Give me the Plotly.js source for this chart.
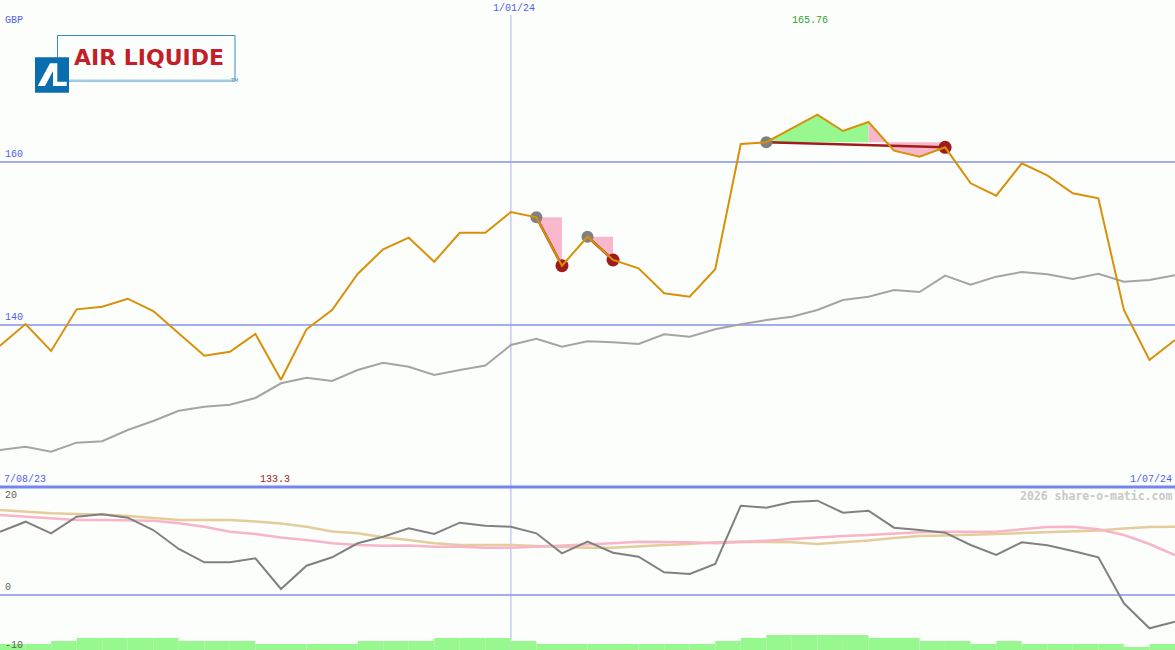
<!DOCTYPE html>
<html>
<head>
<meta charset="utf-8">
<script src="https://cdn.plot.ly/plotly-3.0.1.min.js"></script>
<style>
html,body{margin:0;padding:0;background:#fcfefc;}
#chart{width:1175px;height:650px;}
</style>
</head>
<body>
<div id="chart"></div>
<script>
// ---- data ----
const dates = ['2023-08-14','2023-08-21','2023-08-28','2023-09-04','2023-09-11','2023-09-18','2023-09-25',
 '2023-10-02','2023-10-09','2023-10-16','2023-10-23','2023-10-30','2023-11-06','2023-11-13','2023-11-20',
 '2023-11-27','2023-12-04','2023-12-11','2023-12-18','2023-12-25','2024-01-01','2024-01-08','2024-01-15',
 '2024-01-22','2024-01-29','2024-02-05','2024-02-12','2024-02-19','2024-02-26','2024-03-04','2024-03-11',
 '2024-03-18','2024-03-25','2024-04-01','2024-04-08','2024-04-15','2024-04-22','2024-04-29','2024-05-06',
 '2024-05-13','2024-05-20','2024-05-27','2024-06-03','2024-06-10','2024-06-17','2024-06-24','2024-07-01'];

const price = [137.46,140.12,136.82,141.92,142.24,143.22,141.71,138.93,136.24,136.73,138.90,133.3,139.47,
 141.84,146.25,149.27,150.69,147.75,151.30,151.30,153.84,153.19,147.26,150.81,147.96,146.94,143.88,143.47,
 146.82,162.17,162.38,164.09,165.76,163.76,164.86,161.35,160.61,161.76,157.35,155.84,159.80,158.33,156.13,
 155.52,141.84,135.71,138.16];

const relative = [124.69,125.09,124.48,125.59,125.76,127.14,128.24,129.50,129.99,130.24,131.06,132.86,133.55,
 133.14,134.49,135.38,134.89,133.88,134.49,135.04,137.55,138.32,137.34,138.0,137.88,137.67,138.86,138.57,
 139.47,140.09,140.61,141.02,141.84,143.06,143.47,144.29,144.04,146.04,144.94,145.92,146.49,146.21,145.63,
 146.28,145.30,145.51,146.09];

const momentum = [12.66,14.66,12.34,15.66,16.14,15.46,13.0,9.2,6.54,6.54,7.34,1.2,5.86,7.54,10.34,11.66,
 13.34,12.2,14.46,13.86,13.66,12.34,8.34,10.66,8.46,7.66,4.54,4.2,6.2,17.86,17.46,18.6,18.86,16.46,16.86,
 13.46,13.0,12.46,10.0,8.0,10.54,9.94,8.8,7.54,-1.66,-6.66,-5.34];

const avgSlow = [17.0,16.7,16.34,16.2,16.1,15.8,15.4,15.0,15.0,15.0,14.7,14.3,13.66,12.7,12.34,11.54,11.0,
 10.34,10.0,10.0,10.0,9.8,9.6,9.46,9.46,9.8,10.0,10.2,10.54,10.66,10.6,10.54,10.2,10.5,10.9,11.4,11.8,11.9,
 12.0,12.2,12.4,12.54,12.66,12.9,13.3,13.6,13.66];

const avgFast = [16.0,15.66,15.34,15.0,15.0,15.0,14.86,14.34,13.66,12.66,12.2,11.5,11.0,10.34,10.0,9.86,9.9,
 9.66,9.66,9.46,9.46,9.66,9.86,10.2,10.34,10.66,10.66,10.54,10.34,10.54,10.86,11.2,11.54,11.8,12.0,12.34,
 12.54,12.66,12.66,12.66,13.14,13.6,13.66,13.14,12.0,10.2,8.0];

const volume = [2,2,3,4,4,4,4,3,3,3,2,2,2,2,3,3,3,4,4,4,3,2,2,2,2,2,2,2,3,4,5,5,5,5,4,4,3,3,2,3,2,2,2,2,1,2];

const tradeEntry = [21, 23, 30];
const tradeExit = [22, 24, 37];
const tradeGainEnd = [21, 23, 34];

const priceUnit = 'GBP';
const maxLabel = '165.76';
const minLabel = '133.3';
const startLabel = '7/08/23';
const endLabel = '1/07/24';
const markLabel = '1/01/24';
const markDate = '2024-01-01';

// ---- helpers (pixel -> paper) ----
const W = 1175, H = 650;
const px = x => x / W;
const py = y => 1 - y / H;
const lowerTop = py(487);

const traces = [];
// volume bars
traces.push({type:'bar', x: dates.slice(0, volume.length), y: volume, xaxis:'x', yaxis:'y3',
  offset: 0, width: 7*24*3600*1000, marker:{color:'#98f890', line:{width:0}}, hoverinfo:'skip'});
traces.push({type:'scatter', mode:'lines', x: dates, y: avgSlow, xaxis:'x', yaxis:'y2',
  line:{color:'#e4cc9c', width:2.5}, hoverinfo:'skip'});
traces.push({type:'scatter', mode:'lines', x: dates, y: avgFast, xaxis:'x', yaxis:'y2',
  line:{color:'#f8b4c8', width:2.5}, hoverinfo:'skip'});
traces.push({type:'scatter', mode:'lines', x: dates, y: momentum, xaxis:'x', yaxis:'y2',
  line:{color:'#808080', width:2}, hoverinfo:'skip'});

// trade shading
function shade(a, b, level, color) {
  if (b <= a) return;
  const xs = dates.slice(a, b + 1).concat([dates[b], dates[a]]);
  const ys = price.slice(a, b + 1).concat([level, level]);
  traces.push({type:'scatter', mode:'lines', x: xs, y: ys, fill:'toself', fillcolor: color,
    line:{width:0, color: color}, hoverinfo:'skip'});
}
tradeEntry.forEach((e, i) => {
  const L = price[e];
  shade(e, tradeGainEnd[i], L, '#98f890');
  shade(tradeGainEnd[i], tradeExit[i], L, '#f8b8cc');
});

traces.push({type:'scatter', mode:'lines', x: dates, y: relative,
  line:{color:'#a4a4a4', width:2}, hoverinfo:'skip'});

tradeEntry.forEach((e, i) => {
  traces.push({type:'scatter', mode:'lines', x:[dates[e], dates[tradeExit[i]]], y:[price[e], price[tradeExit[i]]],
    line:{color:'#a01c1c', width:2.5}, hoverinfo:'skip'});
});
traces.push({type:'scatter', mode:'markers', x: tradeEntry.map(i => dates[i]), y: tradeEntry.map(i => price[i]),
  marker:{color:'#808080', size:12, line:{width:0}}, hoverinfo:'skip'});
traces.push({type:'scatter', mode:'markers', x: tradeExit.map(i => dates[i]), y: tradeExit.map(i => price[i]),
  marker:{color:'#a01c1c', size:13, line:{width:0}}, hoverinfo:'skip'});

traces.push({type:'scatter', mode:'lines', x: dates, y: price,
  line:{color:'#d89008', width:2}, hoverinfo:'skip'});

const mono = 'Liberation Mono, DejaVu Sans Mono, monospace';
const blue = '#5060f0';
function ann(text, x, y, opts) {
  return Object.assign({text: text, x: px(x), y: py(y), xref:'paper', yref:'paper', showarrow:false,
    xanchor:'left', yanchor:'middle', font:{family: mono, size: 10, color: blue}}, opts || {});
}

const annotations = [
  ann(priceUnit, 3, 21),
  Object.assign(ann(markLabel, 0, 9, {xanchor:'center'}), {x: markDate, xref:'x', xshift: 3}),
  ann(maxLabel, 810, 21, {xanchor:'center', font:{family: mono, size:10, color:'#30a030'}}),
  {text:'160', x: px(3), xref:'paper', y:160, yref:'y', yanchor:'bottom', xanchor:'left', showarrow:false,
    font:{family: mono, size:10, color: blue}},
  {text:'140', x: px(3), xref:'paper', y:140, yref:'y', yanchor:'bottom', xanchor:'left', showarrow:false,
    font:{family: mono, size:10, color: blue}},
  ann(startLabel, 2, 479),
  ann(minLabel, 275, 479, {xanchor:'center', font:{family: mono, size:10, color:'#a02020'}}),
  ann(endLabel, 1174, 479, {xanchor:'right'}),
  {text:'20', x: px(3), xref:'paper', y:20, yref:'y2', yanchor:'middle', xanchor:'left', showarrow:false,
    font:{family: mono, size:10, color:'#606060'}},
  {text:'0', x: px(3), xref:'paper', y:0, yref:'y2', yanchor:'bottom', xanchor:'left', showarrow:false,
    font:{family: mono, size:10, color:'#606060'}},
  {text:'-10', x: px(3), xref:'paper', y:-10, yref:'y2', yanchor:'middle', xanchor:'left', showarrow:false,
    font:{family: mono, size:10, color:'#606060'}},
  ann('<b>2026 share-o-matic.com</b>', 1174, 496, {xanchor:'right',
    font:{family:'DejaVu Sans Mono, monospace', size:11.5, color:'#c8c8c8'}}),
  // logo text
  ann('<b>AIR LIQUIDE</b>', 72, 58, {font:{family:'DejaVu Sans, sans-serif', size:22, color:'#c41e2a'}}),
  ann('TM', 228, 79.5, {font:{family:'DejaVu Sans, sans-serif', size:5, color:'#3a8cc0'}})
];

const glyph = [[37.7,86],[45,86],[53,71],[53,86],[66.7,86],[66.7,81.7],[57.3,81.7],[57.3,63.3],[50,63.3]];
const glyphPath = 'M ' + glyph.map(p => px(p[0]).toFixed(5) + ',' + py(p[1]).toFixed(5)).join(' L ') + ' Z';

const shapes = [
  {type:'line', xref:'x', yref:'paper', x0: markDate, x1: markDate, y0: 0, y1: py(15),
    line:{color:'#a8b0f0', width:1}, layer:'below'},
  {type:'line', xref:'paper', yref:'paper', x0: 0, x1: 1, y0: lowerTop, y1: lowerTop,
    line:{color:'#7484f0', width:3}, layer:'above'},
  // logo
  {type:'rect', xref:'paper', yref:'paper', x0: px(57.5), x1: px(235), y0: py(81), y1: py(35.5),
    line:{color:'#3a8cc0', width:1}, fillcolor:'rgba(255,255,255,0)', layer:'above'},
  {type:'line', xref:'paper', yref:'paper', x0: px(69), x1: px(235), y0: py(80.5), y1: py(80.5),
    line:{color:'#a4cce8', width:2}, layer:'above'},
  {type:'rect', xref:'paper', yref:'paper', x0: px(35), x1: px(69), y0: py(92.7), y1: py(57.3),
    line:{width:0}, fillcolor:'#0a6eae', layer:'above'},
  {type:'path', xref:'paper', yref:'paper', path: glyphPath, line:{width:0}, fillcolor:'#ffffff', layer:'above'}
];

const layout = {
  width: W, height: H,
  margin:{l:0, r:0, t:0, b:0, pad:0},
  paper_bgcolor:'#fcfefc', plot_bgcolor:'#fcfefc',
  showlegend:false,
  xaxis:{type:'date', range:[dates[0], dates[dates.length-1]], showgrid:false, zeroline:false,
    showticklabels:false, ticks:'', showline:false, anchor:'y2'},
  yaxis:{domain:[lowerTop, 1], range:[120.16, 179.80], tickvals:[140,160], showticklabels:false, ticks:'',
    gridcolor:'#a4acf0', gridwidth:2, zeroline:false, showline:false},
  yaxis2:{domain:[0, lowerTop], range:[-11, 21.6], tickvals:[0], showticklabels:false, ticks:'',
    gridcolor:'#a4acf0', gridwidth:2, zeroline:false, showline:false},
  yaxis3:{domain:[0, lowerTop], range:[0, 54.33], overlaying:'y2', visible:false, showgrid:false},
  annotations: annotations,
  shapes: shapes
};

Plotly.newPlot('chart', traces, layout, {staticPlot:true, displayModeBar:false});
</script>
</body>
</html>
